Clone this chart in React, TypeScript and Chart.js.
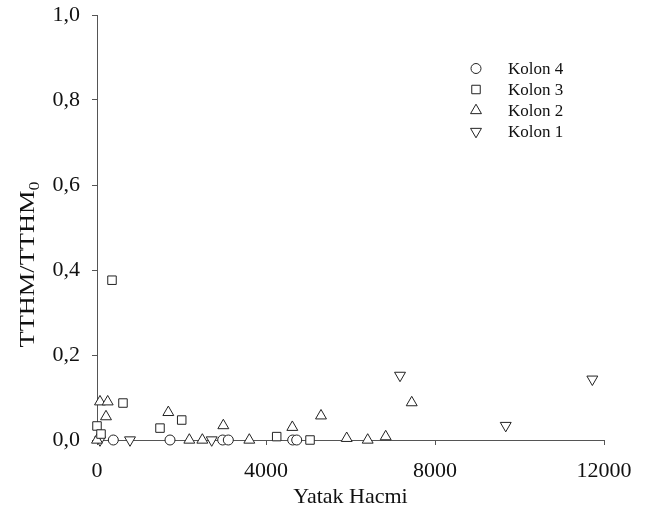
import React, { useEffect, useRef } from 'react';
import { Chart, registerables } from 'chart.js';
import * as helpers from 'chart.js/helpers';

Chart.register(...registerables);

const FONT = '"Liberation Serif", "Times New Roman", serif';
const INK = '#111';
const AXIS = '#555';
const MARK = '#222';

// Data
const SERIES_LABELS = ['Kolon 4', 'Kolon 3', 'Kolon 2', 'Kolon 1'];

const kolon4X = [386, 1728, 2975, 3108, 4632, 4727];
const kolon4Y = [0, 0, 0, 0, 0, 0];

const kolon3X = [0, 95, 355, 615, 1491, 2005, 4253, 5042];
const kolon3Y = [0.033, 0.014, 0.376, 0.087, 0.028, 0.047, 0.008, 0];

const kolon2X = [0, 71, 253, 213, 1688, 2185, 2493, 2990, 3605, 4623, 5302, 5910, 6407, 6833, 7449];
const kolon2Y = [0, 0.09, 0.09, 0.055, 0.065, 0, 0, 0.034, 0, 0.03, 0.057, 0.004, 0, 0.008, 0.088];

const kolon1X = [71, 781, 2715, 7172, 9674, 11724];
const kolon1Y = [0, 0, 0, 0.152, 0.034, 0.143];

const X_TICKS = [0, 4000, 8000, 12000];
const Y_TICKS = [0, 0.2, 0.4, 0.6, 0.8, 1.0];

const X_TITLE = 'Yatak Hacmi';
const Y_TITLE_MAIN = 'TTHM/TTHM';
const Y_TITLE_SUB = '0';

const POINT_STYLES = ['circle', 'rect', 'triangle', 'triangle'];
const POINT_ROTATIONS = [0, 0, 0, 180];
const POINT_RADII = [5, 6, 6.3, 6.3];

const toPoints = (xs: number[], ys: number[]) => xs.map((x, i) => ({ x, y: ys[i] }));

const yTitlePlugin = {
  id: 'yTitleWithSubscript',
  afterDraw(chart: any) {
    const { ctx, chartArea } = chart;
    const midY = (chartArea.top + chartArea.bottom) / 2;
    ctx.save();
    ctx.translate(chartArea.left - 63, midY + 120);
    ctx.rotate(-Math.PI / 2);
    ctx.scale(1.2, 1);
    ctx.fillStyle = INK;
    ctx.textAlign = 'left';
    ctx.textBaseline = 'alphabetic';
    ctx.font = `22px ${FONT}`;
    ctx.fillText(Y_TITLE_MAIN, 0, 0);
    const w = ctx.measureText(Y_TITLE_MAIN).width;
    ctx.font = `15px ${FONT}`;
    ctx.fillText(Y_TITLE_SUB, w, 5);
    ctx.restore();
  },
};

const legendPlugin = {
  id: 'cornerLegend',
  afterDraw(chart: any) {
    const { ctx, chartArea } = chart;
    const symX = chartArea.left + 379;
    const textX = symX + 32;
    let y = chartArea.top + 53.5;
    ctx.save();
    chart.data.datasets.forEach((ds: any) => {
      ctx.fillStyle = '#fff';
      ctx.strokeStyle = MARK;
      ctx.lineWidth = 1;
      helpers.drawPoint(ctx, {
        pointStyle: ds.pointStyle,
        rotation: ds.pointRotation,
        radius: ds.pointRadius,
        borderWidth: 1,
      } as any, symX, y);
      ctx.fillStyle = INK;
      ctx.font = `17px ${FONT}`;
      ctx.textAlign = 'left';
      ctx.textBaseline = 'middle';
      ctx.fillText(ds.label, textX, y + 1);
      y += 21;
    });
    ctx.restore();
  },
};

export default function App() {
  const ref = useRef<HTMLCanvasElement>(null);

  useEffect(() => {
    const xs = [kolon4X, kolon3X, kolon2X, kolon1X];
    const ys = [kolon4Y, kolon3Y, kolon2Y, kolon1Y];
    const datasets = SERIES_LABELS.map((label, i) => ({
      label,
      data: toPoints(xs[i], ys[i]),
      pointStyle: POINT_STYLES[i],
      pointRotation: POINT_ROTATIONS[i],
      pointRadius: POINT_RADII[i],
      pointHoverRadius: POINT_RADII[i],
      pointBorderWidth: 1,
      pointBorderColor: MARK,
      pointBackgroundColor: '#fff',
      showLine: false,
      clip: false as any,
    }));

    const chart = new Chart(ref.current!, {
      type: 'scatter',
      data: { datasets },
      options: {
        responsive: false,
        animation: false,
        devicePixelRatio: 1,
        events: [],
        layout: { padding: { top: 15, right: 48, left: 0, bottom: 0 } },
        plugins: {
          legend: { display: false },
          tooltip: { enabled: false },
          title: { display: false },
        },
        scales: {
          x: {
            type: 'linear',
            min: 0,
            max: 12000,
            afterFit: (s: any) => {
              s.height = 71;
              s.paddingLeft = 0;
              s.paddingRight = 0;
            },
            afterBuildTicks: (s: any) => { s.ticks = X_TICKS.map((value) => ({ value })); },
            grid: { display: true, drawOnChartArea: false, drawTicks: true, tickLength: 5, color: AXIS, lineWidth: 1 },
            border: { display: true, color: AXIS, width: 1 },
            ticks: {
              color: INK,
              font: { family: FONT, size: 22 },
              padding: 13,
              maxRotation: 0,
              autoSkip: false,
              callback: (v: any) => String(v),
            },
            title: {
              display: true,
              text: X_TITLE,
              color: INK,
              font: { family: FONT, size: 22 },
              padding: { top: 0, bottom: 1 },
            },
          },
          y: {
            type: 'linear',
            min: 0,
            max: 1,
            afterFit: (s: any) => {
              s.width = 97;
              s.paddingTop = 0;
              s.paddingBottom = 0;
            },
            afterBuildTicks: (s: any) => { s.ticks = Y_TICKS.map((value) => ({ value })); },
            grid: { display: true, drawOnChartArea: false, drawTicks: true, tickLength: 5, color: AXIS, lineWidth: 1 },
            border: { display: true, color: AXIS, width: 1 },
            ticks: {
              color: INK,
              font: { family: FONT, size: 22 },
              padding: 12,
              autoSkip: false,
              callback: (v: any) => Number(v).toFixed(1).replace('.', ','),
            },
          },
        },
      },
      plugins: [yTitlePlugin, legendPlugin],
    });
    return () => chart.destroy();
  }, []);

  return (
    <div style={{ position: 'absolute', left: 0, top: 0, width: 652, height: 511, background: '#fff' }}>
      <canvas ref={ref} width={652} height={511} style={{ display: 'block', width: 652, height: 511 }} />
    </div>
  );
}
